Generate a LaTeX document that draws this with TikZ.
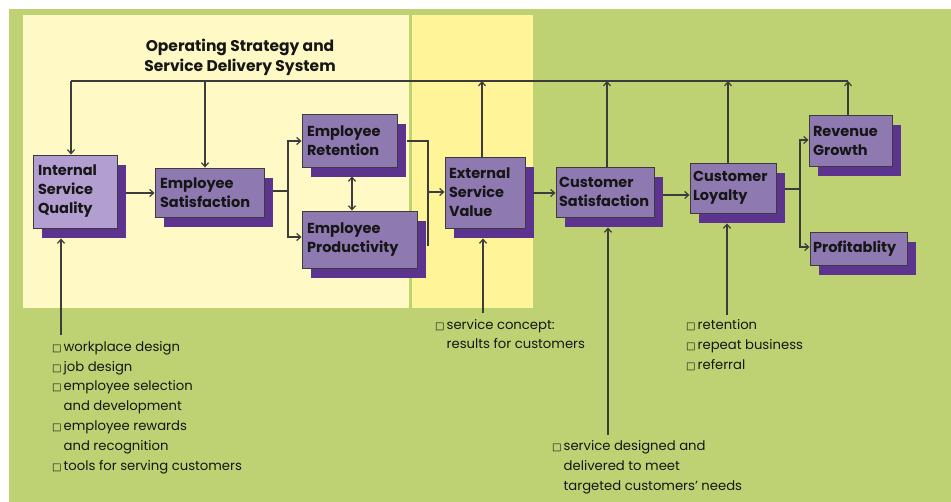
\documentclass[tikz,border=0pt]{standalone}
\usepackage{fontspec}
\setmainfont{Poppins}
\newfontfamily\symf{DejaVu Sans}
\usetikzlibrary{arrows.meta,shadows,calc}
\definecolor{bggreen}{RGB}{190,210,115}
\definecolor{paleyel}{RGB}{255,249,197}
\definecolor{brightyel}{RGB}{255,244,152}
\definecolor{boxpurple}{RGB}{143,121,177}
\definecolor{lightpurple}{RGB}{178,158,208}
\definecolor{shadowpurple}{RGB}{92,52,143}
\definecolor{linegray}{RGB}{60,60,60}
\definecolor{txtdark}{RGB}{22,22,22}
\newcommand{\bx}{{\symf\fontsize{10}{10}\selectfont □}\hspace{2pt}}
\newcommand{\bxs}{\phantom{\bx}}
\begin{document}
\begin{tikzpicture}[x=1pt,y=-1pt,
  box/.style={draw=linegray, line width=0.9pt, fill=boxpurple, rectangle, inner sep=0pt,
    text=txtdark, align=left, font=\bfseries\fontsize{14.5}{19}\selectfont,
    drop shadow={shadow xshift=9pt, shadow yshift=-10pt, fill=shadowpurple, opacity=1}},
  conn/.style={draw=linegray, line width=1.2pt},
  arr/.style={conn, -{Straight Barb[length=4pt,width=7pt]}},
  arrr/.style={conn, {Straight Barb[length=4pt,width=7pt]}-{Straight Barb[length=4pt,width=7pt]}},
  lst/.style={inner sep=0pt, anchor=west, align=left, text=txtdark, font=\fontsize{13.2}{19.8}\selectfont}
]
\useasboundingbox (0,0) rectangle (951,502);
\fill[white] (0,0) rectangle (951,502);
\fill[bggreen] (9,9) rectangle (951,502);
\fill[paleyel] (23,15) rectangle (409,308);
\fill[brightyel] (412,15) rectangle (533,308);

\node[font=\bfseries\fontsize{15.5}{20}\selectfont, text=txtdark, align=center, inner sep=0pt] (title) at (240,57)
  {Operating Strategy and\\Service Delivery System};

% boxes
\node[box, fill=lightpurple, minimum width=84pt, minimum height=73pt, text width=74pt] (isq) at (75,191.5) {Internal\\Service\\Quality};
\node[box, minimum width=109pt, minimum height=49pt, text width=99pt] (es) at (209.5,192.5) {Employee\\Satisfaction};
\node[box, minimum width=95pt, minimum height=53pt, text width=85pt] (er) at (349.5,140.5) {Employee\\Retention};
\node[box, minimum width=115pt, minimum height=57pt, text width=105pt] (ep) at (359.5,239.5) {Employee\\Productivity};
\node[box, minimum width=80pt, minimum height=71pt, text width=72pt] (esv) at (485,192.5) {External\\Service\\Value};
\node[box, minimum width=98pt, minimum height=50pt, text width=92pt] (cs) at (605,192) {Customer\\Satisfaction};
\node[box, minimum width=86pt, minimum height=50pt, text width=80pt] (cl) at (733,188) {Customer\\Loyalty};
\node[box, minimum width=83pt, minimum height=51pt, text width=75pt] (rg) at (850.5,140.5) {Revenue\\Growth};
\node[box, minimum width=97pt, minimum height=33pt, text width=91pt] (pr) at (858.5,248.5) {Profitablity};

% top feedback line
\coordinate (t1) at (71,81);
\coordinate (t2) at (205,81);
\coordinate (t3) at (482,81);
\coordinate (t4) at (607,81);
\coordinate (t5) at (728,81);
\coordinate (t6) at (848,81);
\draw[conn] (t1) -- (t6);
\draw[arr] (t1) -- (t1 |- isq.north);
\draw[arr] (t2) -- (t2 |- es.north);
\draw[arr] (t3 |- esv.north) -- (t3);
\draw[arr] (t4 |- cs.north) -- (t4);
\draw[arr] (t5 |- cl.north) -- (t5);
\draw[arr] (t6 |- rg.north) -- (t6);

% main flow
\coordinate (a1) at ($(isq.east)+(9,1.5)$);
\draw[arr] (a1) -- (a1 -| es.west);
\coordinate (j1) at (288,191);
\draw[conn] ($(es.east)+(9,-1.5)$) -- (j1);
\draw[arr] (j1) |- ($(er.west)+(0,0.5)$);
\draw[arr] (j1) |- ($(ep.west)+(0,-2.5)$);
\coordinate (a2) at ($(er.south)+(2.5,9)$);
\draw[arrr] (a2) -- (a2 |- ep.north);
\coordinate (j2) at (428,192);
\draw[conn] ($(er.east)+(10,0.5)$) -| (j2);
\draw[conn] ($(ep.east)+(10,5.5)$) -| (j2);
\draw[arr] (j2) -- (j2 -| esv.west);
\coordinate (a3) at ($(esv.east)+(8,0.5)$);
\draw[arr] (a3) -- (a3 -| cs.west);
\coordinate (a4) at ($(cs.east)+(9,3)$);
\draw[arr] (a4) -- (a4 -| cl.west);
\coordinate (j3) at (800,189);
\draw[conn] ($(cl.east)+(9,1)$) -- (j3);
\draw[arr] (j3) |- ($(rg.west)+(0,-0.5)$);
\draw[arr] (j3) |- ($(pr.west)+(0,-1.5)$);

% inputs from below
\coordinate (b1) at (61,335);
\coordinate (b2) at (483,313);
\coordinate (b3) at (608,435);
\coordinate (b4) at (727,315);
\draw[arr] (b1) -- ($(b1 |- isq.south)+(0,10)$);
\draw[arr] (b2) -- ($(b2 |- esv.south)+(0,10)$);
\draw[arr] (b3) -- ($(b3 |- cs.south)+(0,10)$);
\draw[arr] (b4) -- ($(b4 |- cl.south)+(0,10)$);

% lists
\node[lst] (l1) at (52,407.5) {\bx workplace design\\\bx job design\\\bx employee selection\\\bxs and development\\\bx employee rewards\\\bxs and recognition\\\bx tools for serving customers};
\node[lst] (l2) at (435,334.5) {\bx service concept:\\\bxs results for customers};
\node[lst] (l3) at (686,345) {\bx retention\\\bx repeat business\\\bx referral};
\node[lst] (l4) at (552,467) {\bx service designed and\\\bxs delivered to meet\\\bxs targeted customers' needs};
\end{tikzpicture}
\end{document}
